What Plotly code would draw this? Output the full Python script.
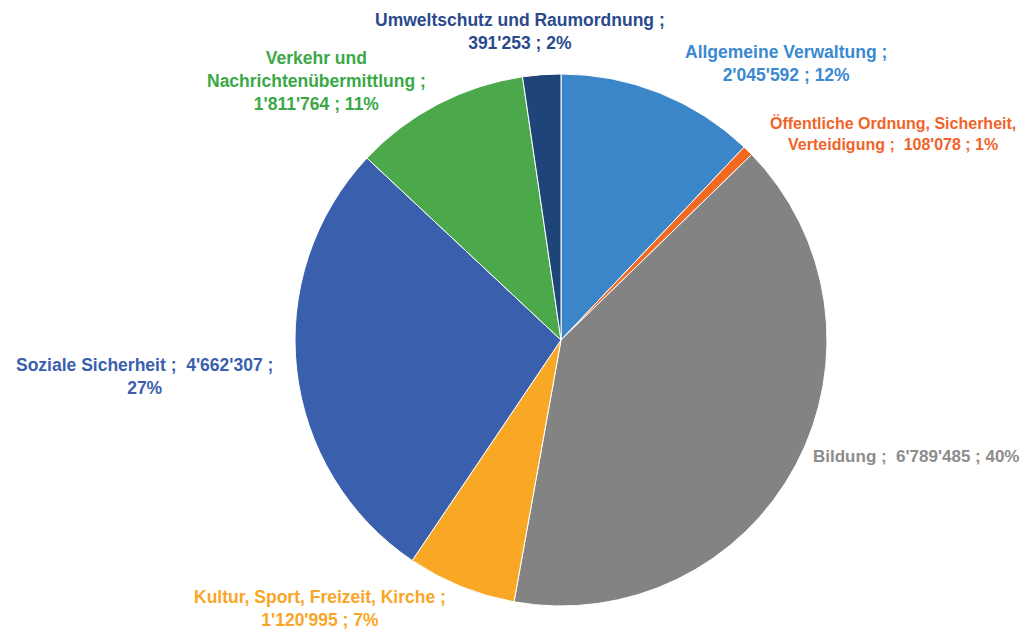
import plotly.graph_objects as go

categories = [
    "Allgemeine Verwaltung",
    "Öffentliche Ordnung, Sicherheit, Verteidigung",
    "Bildung",
    "Kultur, Sport, Freizeit, Kirche",
    "Soziale Sicherheit",
    "Verkehr und Nachrichtenübermittlung",
    "Umweltschutz und Raumordnung",
]
values = [2045592, 108078, 6789485, 1120995, 4662307, 1811764, 391253]
label_texts = [
    "Allgemeine Verwaltung ;<br>2'045'592 ; 12%",
    "Öffentliche Ordnung, Sicherheit,<br>Verteidigung ;  108'078 ; 1%",
    "Bildung ;  6'789'485 ; 40%",
    "Kultur, Sport, Freizeit, Kirche ;<br>1'120'995 ; 7%",
    "Soziale Sicherheit ;  4'662'307 ;<br>27%",
    "Verkehr und<br>Nachrichtenübermittlung ;<br>1'811'764 ; 11%",
    "Umweltschutz und Raumordnung ;<br>391'253 ; 2%",
]
colors = ["#3b86c9", "#f26a21", "#838383", "#f9a826", "#3a5fad", "#4ba84b", "#1f4578"]
text_colors = ["#3a89d2", "#f0632a", "#8c8c8c", "#f9a628", "#3a5fae", "#3aa846", "#2b4a8c"]
# label centre positions in window pixels (x, y of text block centre) and font sizes
label_pos = [(786, 64), (893, 133), (916, 456), (320, 608), (144, 376), (316, 81), (520, 32)]
label_sizes = [17.5, 16, 17, 17.5, 17.5, 17.5, 17.5]

OFF = 8  # page body margin
W, H = 1032 - 2 * OFF, 637 - 2 * OFF
cx, cy, r = 561, 340, 266


def px_x(x):
    return (x - OFF) / W


def px_y(y):
    return 1 - (y - OFF) / H


fig = go.Figure(go.Pie(
    labels=categories,
    values=values,
    sort=False,
    direction="clockwise",
    rotation=0,
    marker=dict(colors=colors, line=dict(color="white", width=1)),
    textinfo="none",
    hoverinfo="label+value+percent",
    domain=dict(x=[px_x(cx - r), px_x(cx + r)], y=[px_y(cy + r), px_y(cy - r)]),
    showlegend=False,
))

for txt, col, (px, py), fs in zip(label_texts, text_colors, label_pos, label_sizes):
    fig.add_annotation(
        x=px_x(px), y=px_y(py), xref="paper", yref="paper",
        text="<b>" + txt + "</b>", showarrow=False,
        xanchor="center", yanchor="middle", align="center",
        font=dict(family="Liberation Sans, Arial", size=fs, color=col),
    )

fig.update_layout(
    width=W, height=H,
    margin=dict(l=0, r=0, t=0, b=0),
    paper_bgcolor="white",
    plot_bgcolor="white",
)
fig.write_html("out.html")
